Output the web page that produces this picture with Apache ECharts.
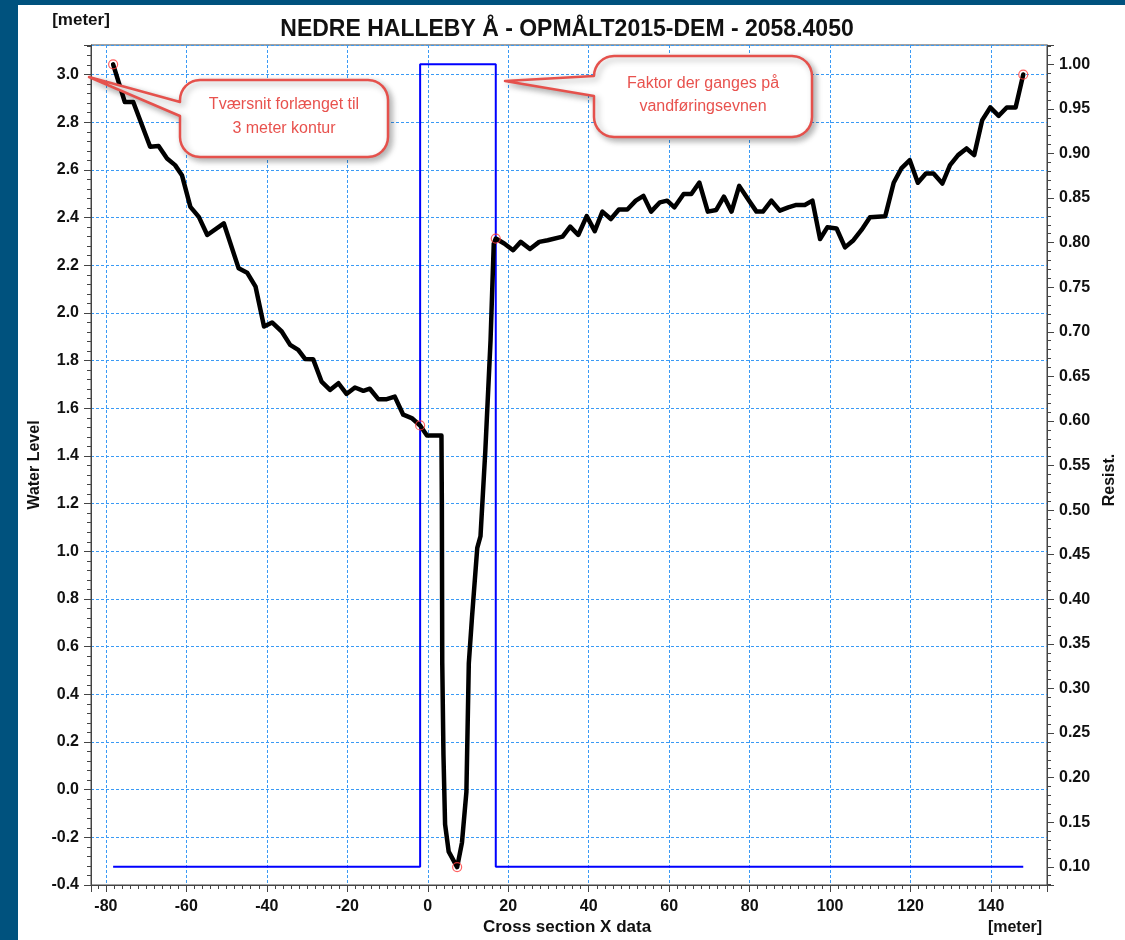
<!DOCTYPE html>
<html>
<head>
<meta charset="utf-8">
<title>NEDRE HALLEBY Å</title>
<script src="https://cdn.jsdelivr.net/npm/echarts@6/dist/echarts.min.js"></script>
<style>
    html, body { margin: 0; padding: 0; width: 1125px; height: 940px; overflow: hidden; background: #00527e; }
    #panel { position: absolute; left: 18px; top: 5px; width: 1107px; height: 935px; background: #ffffff; }
    #chart { position: absolute; left: 0; top: 0; width: 1125px; height: 940px; }
</style>
</head>
<body>
<div id="panel"></div>
<div id="chart"></div>
<script>
// tværsnit, x i meter
var waterX = [-78.2, -75.3, -73.2, -69.0, -66.9, -64.8, -62.8, -61.1, -59.0, -56.9, -54.8, -50.7, -47.0, -44.9, -42.8,
    -40.7, -38.7, -36.3, -34.2, -32.2, -30.5, -28.5, -26.4, -24.3, -22.2, -20.2, -18.1, -16.0, -14.4, -12.3, -10.2,
    -8.2, -6.1, -4.0, -1.9, -0.2, 3.4, 3.5, 3.6, 3.9, 4.3, 5.2, 7.3, 8.5, 9.6, 10.2, 11.0, 12.3, 13.1, 14.3, 15.6,
    16.4, 16.9, 19.0, 21.2, 23.1, 25.4, 27.7, 29.8, 33.5, 35.4, 37.4, 39.5, 41.5, 43.4, 45.5, 47.5, 49.6, 51.7, 53.6,
    55.5, 57.7, 59.5, 61.3, 63.6, 65.5, 67.5, 69.6, 71.7, 73.6, 75.5, 77.4, 79.6, 81.7, 83.3, 85.4, 87.5, 89.6, 91.6,
    93.7, 95.6, 97.5, 99.3, 101.6, 103.7, 105.8, 107.8, 109.9, 113.7, 115.8, 117.7, 119.8, 121.8, 123.8, 125.7, 127.9,
    129.8, 131.8, 133.9, 135.8, 137.8, 139.8, 141.9, 143.9, 146.1, 148.0];
var waterLevel = [3.043, 2.885, 2.885, 2.697, 2.700, 2.648, 2.620, 2.578, 2.445, 2.403, 2.327, 2.376, 2.187, 2.169, 2.110,
    1.943, 1.960, 1.922, 1.866, 1.845, 1.807, 1.806, 1.712, 1.677, 1.705, 1.660, 1.687, 1.673, 1.682, 1.638, 1.638,
    1.649, 1.573, 1.559, 1.528, 1.486, 1.486, 1.208, 0.531, 0.145, -0.145, -0.260, -0.325, -0.222, -0.010, 0.531, 0.725,
    1.014, 1.063, 1.420, 1.884, 2.290, 2.312, 2.291, 2.263, 2.298, 2.268, 2.298, 2.305, 2.320, 2.362, 2.327, 2.406,
    2.343, 2.425, 2.394, 2.434, 2.434, 2.471, 2.491, 2.425, 2.464, 2.471, 2.443, 2.499, 2.499, 2.547, 2.425, 2.432,
    2.488, 2.425, 2.533, 2.477, 2.425, 2.425, 2.471, 2.429, 2.443, 2.453, 2.453, 2.471, 2.310, 2.359, 2.354, 2.275,
    2.305, 2.348, 2.401, 2.406, 2.546, 2.606, 2.641, 2.546, 2.585, 2.585, 2.543, 2.620, 2.662, 2.690, 2.662, 2.809,
    2.862, 2.827, 2.862, 2.862, 3.000];

// modstand (faktor)
var resistX = [-78.2, -1.9, -1.9, 16.9, 16.9, 148.0];
var resistValue = [0.10, 0.10, 1.00, 1.00, 0.10, 0.10];

// markerede punkter
var markX = [-78.2, -1.9, 7.3, 16.9, 148.0];
var markLevel = [3.043, 1.528, -0.325, 2.312, 3.000];

var titleText = 'NEDRE HALLEBY Å - OPMÅLT2015-DEM - 2058.4050';
var note1 = ['Tværsnit forlænget til', '3 meter kontur'];
var note2 = ['Faktor der ganges på', 'vandføringsevnen'];

function pairs(xs, ys) {
    var out = [];
    for (var i = 0; i < xs.length; i++) {
        out.push([xs[i], ys[i]]);
    }
    return out;
}

var FONT = '"Liberation Sans", Arial, sans-serif';
var gridLine = { show: true, lineStyle: { color: '#3a9af5', width: 1, type: [3, 2] } };
var labelStyle = { color: '#111', fontFamily: FONT, fontWeight: 'bold', fontSize: 16 };

// kvart cirkel som punkter
function arc(pts, cx, cy, r, a0, a1) {
    for (var k = 0; k <= 8; k++) {
        var a = a0 + (a1 - a0) * k / 8;
        pts.push([cx + r * Math.cos(a), cy + r * Math.sin(a)]);
    }
}

// boble med spids (polygon)
function callout(x0, y0, x1, y1, tip, b0, b1) {
    var r = 20, P = Math.PI, pts = [];
    arc(pts, x0 + r, y0 + r, r, P, 1.5 * P);
    arc(pts, x1 - r, y0 + r, r, 1.5 * P, 2 * P);
    arc(pts, x1 - r, y1 - r, r, 0, 0.5 * P);
    arc(pts, x0 + r, y1 - r, r, 0.5 * P, P);
    pts.push([x0, b1]);
    pts.push(tip);
    pts.push([x0, b0]);
    return {
        type: 'polygon',
        shape: { points: pts },
        style: {
            fill: '#ffffff', stroke: '#e5514c', lineWidth: 2.5, lineJoin: 'round',
            shadowBlur: 6, shadowOffsetX: 3, shadowOffsetY: 3, shadowColor: 'rgba(0,0,0,0.3)'
        },
        z: 100
    };
}

function noteText(x, y, text) {
    return {
        type: 'text', x: x, y: y, z: 101,
        style: { text: text, fill: '#e8524e', font: '16px ' + FONT, align: 'center', verticalAlign: 'middle' }
    };
}

function plainText(x, y, text, size, rot, align) {
    return {
        type: 'text', x: x, y: y, rotation: rot || 0, z: 50,
        style: { text: text, fill: '#111', font: 'bold ' + size + 'px ' + FONT, align: align || 'center', verticalAlign: 'middle' }
    };
}

var chart = echarts.init(document.getElementById('chart'), null, { renderer: 'canvas' });

var option = {
    animation: false,
    backgroundColor: 'transparent',
    grid: { left: 91, right: 78, top: 45, bottom: 55, show: true, borderColor: '#444', borderWidth: 1, backgroundColor: 'transparent' },
    xAxis: {
        type: 'value', min: -83.7, max: 153.9, splitNumber: 12,
        axisLine: { show: true, onZero: false, lineStyle: { color: '#444' } },
        axisTick: { show: true, length: 7, lineStyle: { color: '#444' } },
        minorTick: { show: true, splitNumber: 10, length: 4, lineStyle: { color: '#444' } },
        axisLabel: Object.assign({ margin: 14, showMinLabel: false, showMaxLabel: false }, labelStyle),
        splitLine: gridLine
    },
    yAxis: [{
        type: 'value', min: -0.4, max: 3.124, interval: 0.2, position: 'left',
        axisLine: { show: true, onZero: false, lineStyle: { color: '#444' } },
        axisTick: { show: true, length: 7, lineStyle: { color: '#444' } },
        minorTick: { show: true, splitNumber: 5, length: 4, lineStyle: { color: '#444' } },
        axisLabel: Object.assign({
            margin: 12, showMaxLabel: false,
            formatter: function (v) { return v.toFixed(1); }
        }, labelStyle),
        splitLine: gridLine
    }, {
        type: 'value', min: 0.0796, max: 1.0216, splitNumber: 19, position: 'right',
        axisLine: { show: true, onZero: false, lineStyle: { color: '#444' } },
        axisTick: { show: true, length: 7, lineStyle: { color: '#444' } },
        minorTick: { show: true, splitNumber: 5, length: 4, lineStyle: { color: '#444' } },
        axisLabel: Object.assign({
            margin: 12, showMinLabel: false, showMaxLabel: false,
            formatter: function (v) { return v.toFixed(2); }
        }, labelStyle),
        splitLine: { show: false }
    }],
    series: [{
        name: 'Resist.',
        type: 'line',
        yAxisIndex: 1,
        data: pairs(resistX, resistValue),
        showSymbol: false,
        lineStyle: { color: '#0000ff', width: 2 },
        z: 2
    }, {
        name: 'Water Level',
        type: 'line',
        data: pairs(waterX, waterLevel),
        showSymbol: false,
        lineStyle: { color: '#000000', width: 4.5, join: 'round', cap: 'round' },
        z: 3
    }, {
        name: 'punkter',
        type: 'scatter',
        data: pairs(markX, markLevel),
        symbol: 'circle',
        symbolSize: 9,
        itemStyle: { color: 'rgba(0,0,0,0)', borderColor: '#ff3b3b', borderWidth: 1.2 },
        z: 4
    }],
    graphic: [
        plainText(567, 30, titleText, 23),
        plainText(81, 20, '[meter]', 17),
        plainText(35, 465, 'Water Level', 16, Math.PI / 2),
        plainText(1110, 480, 'Resist.', 16, Math.PI / 2),
        plainText(567, 927, 'Cross section X data', 17),
        plainText(1015, 928, '[meter]', 16),
        callout(180, 80, 388, 157, [89, 77], 102, 116),
        noteText(284, 105, note1[0]),
        noteText(284, 129, note1[1]),
        callout(594, 56, 812, 137, [505, 81], 76, 96),
        noteText(703, 84, note2[0]),
        noteText(703, 107, note2[1])
    ]
};

chart.setOption(option);
</script>
</body>
</html>
